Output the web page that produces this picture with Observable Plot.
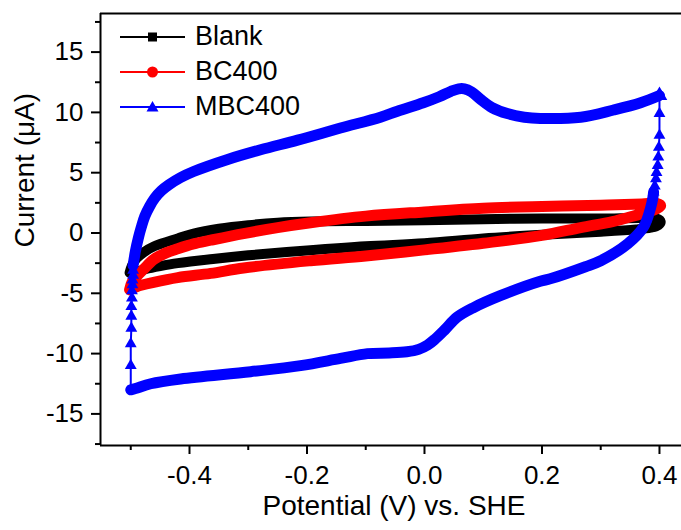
<!DOCTYPE html>
<html><head><meta charset="utf-8">
<script src="https://cdn.jsdelivr.net/npm/d3@7"></script>
<script src="https://cdn.jsdelivr.net/npm/@observablehq/plot@0.6"></script>
<style>
html,body{margin:0;padding:0;background:#fff;}
#wrap{position:relative;width:681px;height:530px;font-family:"Liberation Sans",Arial,sans-serif;}
#legend{position:absolute;left:120px;top:19px;}
.row{height:35px;display:flex;align-items:center;font-size:27px;color:#000;line-height:35px;}
.row svg{margin-right:10px;display:block;}
</style></head><body><div id="wrap"><div id="legend"></div></div>
<script>
// ---- Series names / colours ----
const seriesNames = ["Blank", "BC400", "MBC400"];
const seriesColors = ["#000000", "#ff0000", "#0000ff"];
const seriesSymbols = ["square", "circle", "triangle"];

// ---- Blank (closed CV loop: anodic then cathodic) ----
const blankPot = [-0.502,-0.498,-0.490,-0.478,-0.460,-0.420,-0.393,-0.350,-0.300,-0.250,-0.194,-0.100,0.000,0.100,0.200,0.300,0.370,0.395,0.402,
                  0.398,0.385,0.360,0.300,0.200,0.100,0.000,-0.100,-0.200,-0.300,-0.360,-0.420,-0.450,-0.475,-0.490,-0.502];
const blankCur = [-3.3,-2.7,-2.1,-1.6,-1.1,-0.45,-0.05,0.35,0.65,0.85,0.95,1.0,1.05,1.15,1.2,1.2,1.25,1.2,0.95,
                  0.65,0.45,0.3,0.1,-0.15,-0.45,-0.85,-1.1,-1.45,-1.85,-2.15,-2.5,-2.75,-3.0,-3.2,-3.3];

// ---- BC400 ----
const bcPot = [-0.502,-0.498,-0.490,-0.478,-0.461,-0.440,-0.420,-0.393,-0.364,-0.308,-0.250,-0.194,-0.100,0.000,0.100,0.200,0.300,0.370,0.395,0.402,
               0.395,0.380,0.351,0.320,0.266,0.200,0.100,0.000,-0.100,-0.194,-0.308,-0.364,-0.420,-0.461,-0.490,-0.502];
const bcCur = [-4.7,-4.1,-3.6,-3.0,-2.2,-1.65,-1.3,-0.9,-0.6,-0.05,0.45,0.85,1.4,1.75,2.05,2.2,2.3,2.4,2.45,2.25,
               2.0,1.75,1.35,0.95,0.45,-0.2,-0.85,-1.4,-1.9,-2.3,-2.9,-3.35,-3.7,-4.1,-4.45,-4.7];

// ---- MBC400: vertical step at -0.5 V (sparse points) ----
const mbcRisePot = [-0.500,-0.500,-0.500,-0.499,-0.499,-0.499,-0.498,-0.498,-0.497,-0.497,-0.496,-0.496];
const mbcRiseCur = [-13.0,-11.0,-9.2,-7.9,-6.9,-6.1,-5.4,-4.8,-4.3,-3.9,-3.5,-3.1];
// anodic branch
const mbcUpPot = [-0.496,-0.492,-0.487,-0.482,-0.476,-0.468,-0.459,-0.448,-0.435,-0.415,-0.393,-0.335,-0.279,-0.216,-0.143,-0.075,-0.046,-0.002,0.025,0.045,0.058,0.068,0.080,0.095,0.115,0.141,0.170,0.197,0.266,0.322,0.368,0.400];
const mbcUpCur = [-2.7,-1.5,-0.4,0.5,1.4,2.2,2.9,3.5,4.0,4.6,5.1,6.1,6.9,7.7,8.7,9.6,10.1,10.8,11.3,11.75,11.95,11.95,11.7,11.1,10.4,9.9,9.6,9.5,9.6,10.2,10.8,11.4];
// vertical step at 0.4 V (sparse points)
const mbcFallPot = [0.400,0.400,0.400,0.399,0.398,0.397,0.395,0.394,0.392,0.390];
const mbcFallCur = [11.4,9.9,8.1,7.1,6.3,5.6,5.0,4.5,3.9,3.4];
// cathodic branch
const mbcDownPot = [0.390,0.389,0.385,0.373,0.346,0.300,0.274,0.214,0.197,0.129,0.083,0.055,0.035,0.018,0.005,-0.010,-0.030,-0.060,-0.097,-0.143,-0.211,-0.296,-0.415,-0.466,-0.492,-0.500];
const mbcDownCur = [3.4,3.0,2.1,0.5,-0.9,-2.3,-2.8,-3.8,-4.0,-5.2,-6.2,-7.0,-8.0,-8.8,-9.3,-9.65,-9.85,-9.95,-10.0,-10.4,-11.0,-11.5,-12.1,-12.5,-12.9,-13.0];

// ---- Axis ticks ----
const xMajor = [-0.4,-0.2,0.0,0.2,0.4];
const xMinor = [-0.5,-0.3,-0.1,0.1,0.3];
const yMajor = [-15,-10,-5,0,5,10,15];
const yMinor = [-17.5,-12.5,-7.5,-2.5,2.5,7.5,12.5,17.5];
const xLabel = "Potential (V) vs. SHE";
const yLabel = "Current (\u03bcA)";
const xDomain = [-0.5515, 0.4375];
const yDomain = [-17.62, 18.2];

const pts = (p, c) => p.map((v, i) => ({x: v, y: c[i]}));
const blank = pts(blankPot, blankCur);
const bc = pts(bcPot, bcCur);
const rise = pts(mbcRisePot, mbcRiseCur);
const up = pts(mbcUpPot, mbcUpCur);
const fall = pts(mbcFallPot, mbcFallCur);
const down = pts(mbcDownPot, mbcDownCur);

const font = "'Liberation Sans', Arial, sans-serif";
const band = (data, color, w) => Plot.line(data, {x: "x", y: "y", stroke: color, strokeWidth: w, curve: "catmull-rom", strokeLinecap: "round", strokeLinejoin: "round"});

const chart = Plot.plot({
  width: 681, height: 530,
  marginLeft: 100, marginRight: 0, marginTop: 13, marginBottom: 85,
  x: {domain: xDomain},
  y: {domain: yDomain},
  style: {fontFamily: font, background: "transparent", color: "#000", overflow: "visible"},
  marks: [
    band(blank, seriesColors[0], 10),
    band(bc, seriesColors[1], 11),
    Plot.line(rise, {x: "x", y: "y", stroke: seriesColors[2], strokeWidth: 2}),
    Plot.line(fall, {x: "x", y: "y", stroke: seriesColors[2], strokeWidth: 2}),
    band(up, seriesColors[2], 11),
    band(down, seriesColors[2], 11),
    Plot.dot(rise.slice(1), {x: "x", y: "y", symbol: "triangle", r: 4.4, fill: seriesColors[2]}),
    Plot.dot(fall.slice(1), {x: "x", y: "y", symbol: "triangle", r: 4.4, fill: seriesColors[2]}),
    Plot.dot(fall.slice(0, 1), {x: "x", y: "y", symbol: "triangle", r: 5.8, fill: seriesColors[2]}),
    Plot.ruleY([yDomain[1]], {stroke: "#000", strokeWidth: 2}),
    Plot.ruleY([yDomain[0]], {stroke: "#000", strokeWidth: 2}),
    Plot.ruleX([xDomain[0]], {stroke: "#000", strokeWidth: 2}),
    Plot.axisX({ticks: xMajor, tickSize: 9, tickPadding: 11, tickFormat: d => d.toFixed(1), fontSize: 26, label: null, strokeWidth: 2}),
    Plot.axisX({ticks: xMinor, tickSize: 5, tickFormat: () => "", label: null, strokeWidth: 2}),
    Plot.axisY({ticks: yMajor, tickSize: 9, tickPadding: 8, tickFormat: d => String(d), fontSize: 26, label: null, strokeWidth: 2}),
    Plot.axisY({ticks: yMinor, tickSize: 5, tickFormat: () => "", label: null, strokeWidth: 2}),
    Plot.text([xLabel], {text: d => d, frameAnchor: "bottom", dx: 3, dy: 69, fontSize: 28}),
    Plot.text([yLabel], {text: d => d, frameAnchor: "left", rotate: -90, dx: -75, dy: 18, fontSize: 28})
  ]
});
document.getElementById("wrap").prepend(chart);

// ---- Legend ----
const legend = document.getElementById("legend");
seriesNames.forEach((name, i) => {
  const row = document.createElement("div");
  row.className = "row";
  const c = seriesColors[i];
  let marker = "";
  if (seriesSymbols[i] === "square") marker = `<rect x="28" y="5.5" width="9" height="9" fill="${c}"/>`;
  else if (seriesSymbols[i] === "circle") marker = `<circle cx="32.5" cy="10" r="5.5" fill="${c}"/>`;
  else marker = `<path d="M32.5,4 L38.5,14.5 L26.5,14.5 Z" fill="${c}"/>`;
  row.innerHTML = `<svg width="65" height="20"><line x1="0" x2="65" y1="10" y2="10" stroke="${c}" stroke-width="2"/>${marker}</svg><span>${name}</span>`;
  legend.appendChild(row);
});
</script>
</body></html>
